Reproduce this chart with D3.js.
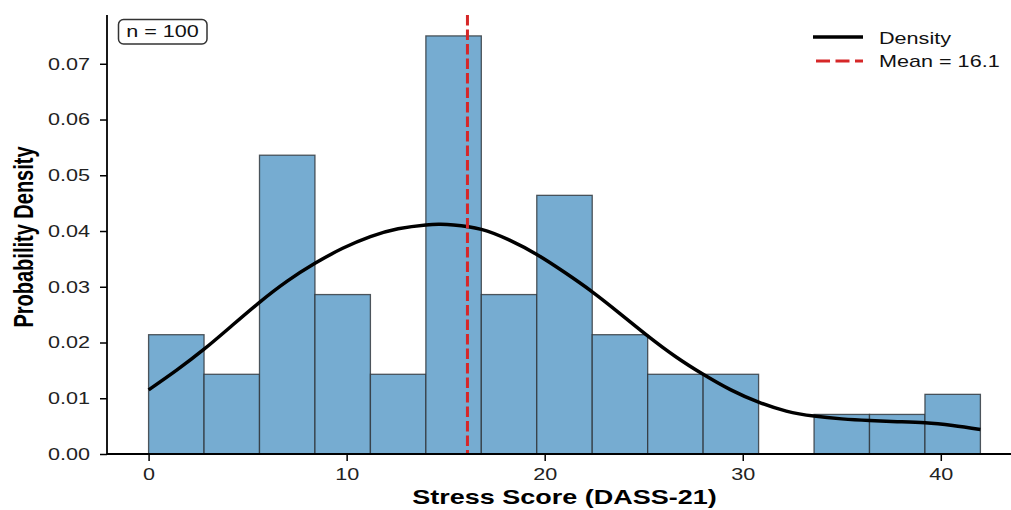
<!DOCTYPE html>
<html>
<head>
<meta charset="utf-8">
<script src="https://cdn.jsdelivr.net/npm/d3@7"></script>
<style>
  html, body { margin: 0; padding: 0; background: #fff; }
  svg { display: block; }
  text { font-family: "Liberation Sans", Arial, sans-serif; }
</style>
</head>
<body>
<svg id="chart" width="1011" height="510"></svg>
<script>
// ---- data ----
const binEdgesStart = [0, 2.8, 5.6, 8.4, 11.2, 14.0, 16.8, 19.6, 22.4, 25.2, 28.0, 30.8, 33.6, 36.4, 39.2];
const binWidth = 2.8;
const binDensity = [0.0214, 0.0143, 0.0536, 0.0286, 0.0143, 0.0750, 0.0286, 0.0464, 0.0214, 0.0143, 0.0143, 0.0, 0.0071, 0.0071, 0.0107];
const kdeX = [0, 1.4, 2.8, 4.2, 5.6, 7.0, 8.4, 9.8, 11.2, 12.6, 14.0, 14.7, 15.4, 16.8, 18.2, 19.6, 21.0, 22.4, 23.8, 25.2, 26.6, 28.0, 29.4, 30.8, 32.2, 33.6, 35.0, 36.4, 37.8, 39.2, 40.6, 42.0];
const kdeY = [0.0115, 0.0150, 0.0188, 0.0230, 0.0272, 0.0310, 0.0342, 0.0369, 0.0390, 0.0404, 0.0411, 0.0412, 0.0411, 0.0403, 0.0384, 0.0358, 0.0326, 0.0291, 0.0252, 0.0212, 0.0175, 0.0143, 0.0115, 0.0093, 0.0077, 0.0068, 0.0063, 0.0060, 0.0058, 0.0056, 0.0051, 0.0044];
const meanValue = 16.1;
const nValue = 100;
const xTicks = [0, 10, 20, 30, 40];
const yTicks = [0.00, 0.01, 0.02, 0.03, 0.04, 0.05, 0.06, 0.07];
const xLabel = "Stress Score (DASS-21)";
const yLabel = "Probability Density";
const legendLabels = ["Density", "Mean = " + meanValue.toFixed(1)];

// ---- layout ----
const SX = 1.35; // horizontal text stretch seen in reference
const svg = d3.select("#chart");
const pL = 107, pT = 15, pB = 454, pR = 1022;
const x = d3.scaleLinear().domain([-2.1, 44.1]).range([pL, pR]);
const y = d3.scaleLinear().domain([0, 0.07875]).range([pB, pT]);

// bars
svg.append("g").selectAll("rect")
  .data(binDensity.map((d, i) => ({x0: binEdgesStart[i], h: d})).filter(d => d.h > 0))
  .join("rect")
  .attr("x", d => x(d.x0))
  .attr("width", d => x(d.x0 + binWidth) - x(d.x0))
  .attr("y", d => y(d.h))
  .attr("height", d => y(0) - y(d.h))
  .attr("fill", "rgb(118,172,209)")
  .attr("stroke", "rgb(45,50,55)")
  .attr("stroke-opacity", 0.8)
  .attr("stroke-width", 1.3);

// density curve
const line = d3.line().x((d, i) => x(kdeX[i])).y(d => y(d)).curve(d3.curveNatural);
svg.append("path").datum(kdeY)
  .attr("d", line)
  .attr("fill", "none")
  .attr("stroke", "#000")
  .attr("stroke-width", 3.5)
  .attr("stroke-linecap", "butt");

// mean line
svg.append("line")
  .attr("x1", x(meanValue)).attr("x2", x(meanValue))
  .attr("y1", pT).attr("y2", pB)
  .attr("stroke", "#d62728")
  .attr("stroke-width", 3)
  .attr("stroke-dasharray", "10.5,4");

// axes
const xAxis = svg.append("g").attr("transform", `translate(0,${pB})`)
  .call(d3.axisBottom(x).tickValues(xTicks).tickFormat(d3.format("d")).tickSizeOuter(0).tickSize(7));
const yAxis = svg.append("g").attr("transform", `translate(${pL},0)`)
  .call(d3.axisLeft(y).tickValues(yTicks).tickFormat(d3.format(".2f")).tickSizeOuter(0).tickSize(7));
[xAxis, yAxis].forEach(a => {
  a.select(".domain").attr("stroke", "#000").attr("stroke-width", 1.8);
  a.selectAll(".tick line").attr("stroke", "#000").attr("stroke-width", 1.5);
  a.selectAll(".tick text").attr("font-size", 16).attr("fill", "#222")
    .attr("font-family", '"Liberation Sans", Arial, sans-serif');
});
yAxis.select(".domain").attr("d", `M0,${pT}V${pB}`);
xAxis.select(".domain").attr("d", `M${pL},0H${pR}`);
yAxis.selectAll(".tick text").attr("x", 0).attr("dy", "0.34em")
  .attr("transform", `translate(-17,0) scale(${SX},1)`);
xAxis.selectAll(".tick text").attr("y", 0).attr("dy", 0)
  .attr("transform", `translate(0,26) scale(${SX},1)`);

function stext(px, py, str, opts) {
  return svg.append("text")
    .attr("transform", `translate(${px},${py}) scale(${SX},1)` + (opts.rotate ? ` rotate(${opts.rotate})` : ""))
    .attr("text-anchor", opts.anchor || "start")
    .attr("font-size", opts.size || 16)
    .attr("font-weight", opts.weight || "normal")
    .attr("fill", opts.fill || "#111")
    .text(str);
}

// axis labels
stext((pL + pR) / 2, 504, xLabel, {anchor: "middle", size: 20, weight: "bold", fill: "#000"});
stext(33, 237, yLabel, {anchor: "middle", size: 20, weight: "bold", fill: "#000", rotate: -90});

// n annotation box
svg.append("rect").attr("x", 118.5).attr("y", 19.5).attr("width", 88.5).attr("height", 24.5)
  .attr("rx", 5).attr("fill", "#fff").attr("stroke", "#333").attr("stroke-width", 1.5);
stext(162.5, 37, "n = " + nValue, {anchor: "middle", size: 16, fill: "#111"});

// legend
const lg = svg.append("g");
lg.append("line").attr("x1", 813).attr("x2", 863).attr("y1", 37).attr("y2", 37)
  .attr("stroke", "#000").attr("stroke-width", 3.5);
lg.append("line").attr("x1", 816).attr("x2", 863).attr("y1", 61).attr("y2", 61)
  .attr("stroke", "#d62728").attr("stroke-width", 3).attr("stroke-dasharray", "14,5.5");
stext(879, 43.5, legendLabels[0], {size: 16, fill: "#111"});
stext(879, 67, legendLabels[1], {size: 16, fill: "#111"});
</script>
</body>
</html>
